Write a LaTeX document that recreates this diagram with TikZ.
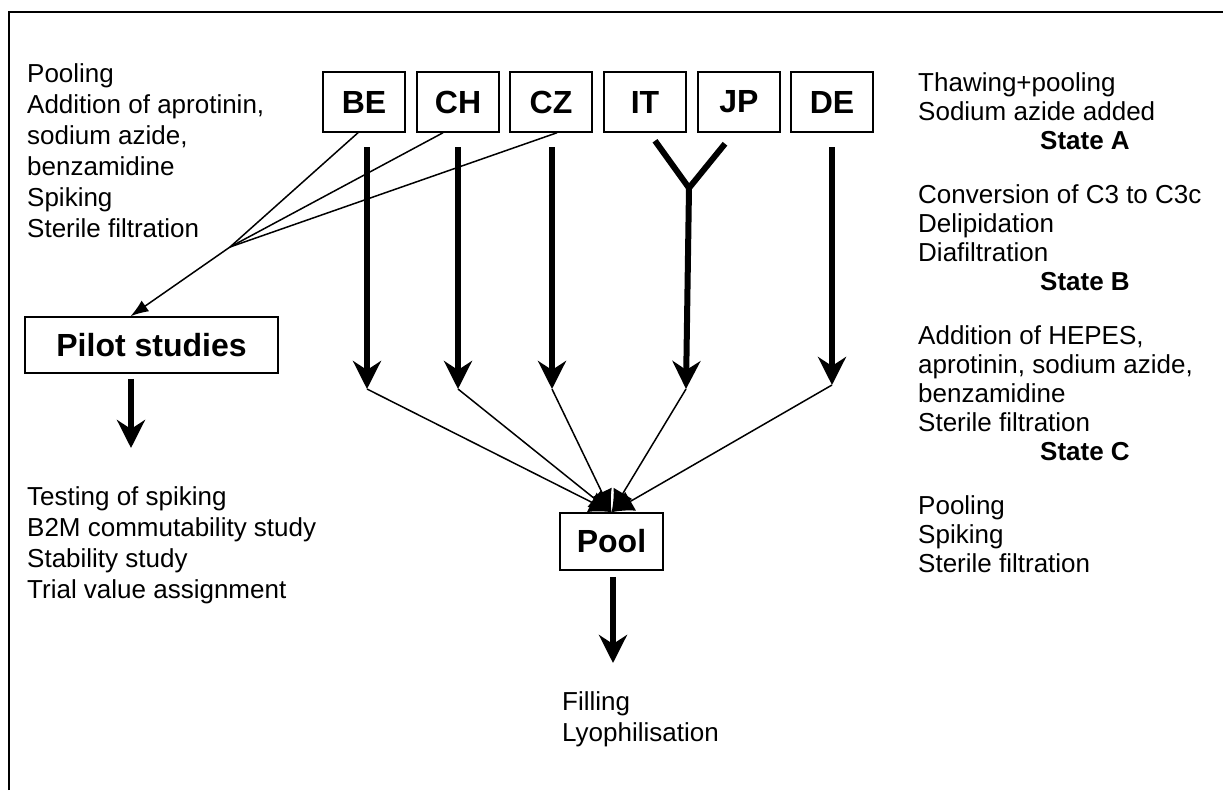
\documentclass[tikz,border=0pt]{standalone}
\usepackage{fontspec}
\setmainfont{Liberation Sans}
\usetikzlibrary{arrows.meta,calc}
\begin{document}
\begin{tikzpicture}[x=1pt,y=-1pt,
  txt/.style={anchor=base west,inner sep=0pt,font=\fontsize{26}{31}\selectfont},
  btxt/.style={txt,font=\fontsize{26}{31}\selectfont\bfseries},
  cbox/.style={draw,line width=1.5pt,minimum width=82pt,minimum height=60pt,inner sep=0pt,font=\fontsize{32}{38}\selectfont\bfseries},
  bigbox/.style={draw,line width=1.5pt,inner sep=0pt,font=\fontsize{32}{38}\selectfont\bfseries},
  thin/.style={line width=1.5pt},
  thinarrow/.style={line width=1.5pt,-{Latex[length=18pt,width=13pt]}},
  poolarrow/.style={line width=1.5pt,-{Latex[length=22pt,width=22pt]}},
  thickline/.style={line width=6pt},
  thickarrow/.style={line width=6pt,-{Stealth[length=28pt,width=28pt,inset=9pt]}}]
\useasboundingbox (0,0) rectangle (1223,790);
\fill[white] (0,0) rectangle (1223,790);
% frame
\draw[line width=2.3pt] (9,790) -- (9,12) -- (1223,12);

% country boxes
\node[cbox] (be) at (364,102) {BE};
\node[cbox] (ch) at (458,102) {CH};
\node[cbox] (cz) at (551,102) {CZ};
\node[cbox] (it) at (645,102) {IT};
\node[cbox] (jp) at (739,102) {JP};
\node[cbox] (de) at (832,102) {DE};

\node[bigbox,minimum width=253pt,minimum height=56pt] (pilot) at (151.5,345) {Pilot studies};
\node[bigbox,minimum width=103pt,minimum height=57pt] (pool) at (611.5,541.5) {Pool};

% coordinates
\coordinate (conv) at (230,247);
\coordinate (tBE) at (367,389);
\coordinate (tCH) at (458,389);
\coordinate (tCZ) at (552,389);
\coordinate (tIT) at (686,389);
\coordinate (tDE) at (832,385);
\coordinate (yj) at (689,188);
\coordinate (tPilot) at (131,448);
\coordinate (tPool) at (613,663);

% thin lines to pilot
\draw[thin] ([xshift=-6pt]be.south) -- (conv);
\draw[thin] ([xshift=-15pt]ch.south) -- (conv);
\draw[thin] ([xshift=6pt]cz.south) -- (conv);
\draw[thinarrow] (conv) -- ([xshift=-21pt]pilot.north);

% thick arrows
\draw[thickarrow] (tBE |- 0,147) -- (tBE);
\draw[thickarrow] (tCH |- 0,147) -- (tCH);
\draw[thickarrow] (tCZ |- 0,147) -- (tCZ);
\draw[thickline] ([xshift=10pt,yshift=-8pt]it.south) -- (yj) -- ([xshift=-14pt,yshift=-11pt]jp.south);
\draw[thickarrow] (yj) -- (tIT);
\draw[thickarrow] (tDE |- 0,147) -- (tDE);

% thin arrows to pool
\draw[poolarrow] (tBE) -- (pool.north);
\draw[poolarrow] (tCH) -- (pool.north);
\draw[poolarrow] (tCZ) -- (pool.north);
\draw[poolarrow] (tIT) -- (pool.north);
\draw[poolarrow] (tDE) -- (pool.north);

% pilot and pool arrows
\draw[thickarrow] ([xshift=-20.5pt,yshift=-5pt]pilot.south) -- (tPilot);
\draw[thickarrow] ([xshift=1.5pt,yshift=-6pt]pool.south) -- (tPool);

% left top text
\node[txt] (tl1) at (27,82) {Pooling};
\node[txt] (tl2) at (27,113) {Addition of aprotinin,};
\node[txt] (tl3) at (27,144) {sodium azide,};
\node[txt] (tl4) at (27,175) {benzamidine};
\node[txt] (tl5) at (27,206) {Spiking};
\node[txt] (tl6) at (27,237) {Sterile filtration};

% left bottom text
\node[txt] (bl1) at (27,505) {Testing of spiking};
\node[txt] (bl2) at (27,536) {B2M commutability study};
\node[txt] (bl3) at (27,567) {Stability study};
\node[txt] (bl4) at (27,598) {Trial value assignment};

% right text
\node[txt] (r1) at (918,91) {Thawing+pooling};
\node[txt] (r2) at (918,120) {Sodium azide added};
\node[btxt] (r3) at (1040,149) {State A};
\node[txt] (r4) at (918,203) {Conversion of C3 to C3c};
\node[txt] (r5) at (918,232) {Delipidation};
\node[txt] (r6) at (918,261) {Diafiltration};
\node[btxt] (r7) at (1040,290) {State B};
\node[txt] (r8) at (918,344) {Addition of HEPES,};
\node[txt] (r9) at (918,373) {aprotinin, sodium azide,};
\node[txt] (r10) at (918,402) {benzamidine};
\node[txt] (r11) at (918,431) {Sterile filtration};
\node[btxt] (r12) at (1040,460) {State C};
\node[txt] (r13) at (918,514) {Pooling};
\node[txt] (r14) at (918,543) {Spiking};
\node[txt] (r15) at (918,572) {Sterile filtration};

% bottom text
\node[txt] (f1) at (562,710) {Filling};
\node[txt] (f2) at (562,741) {Lyophilisation};
\end{tikzpicture}
\end{document}
